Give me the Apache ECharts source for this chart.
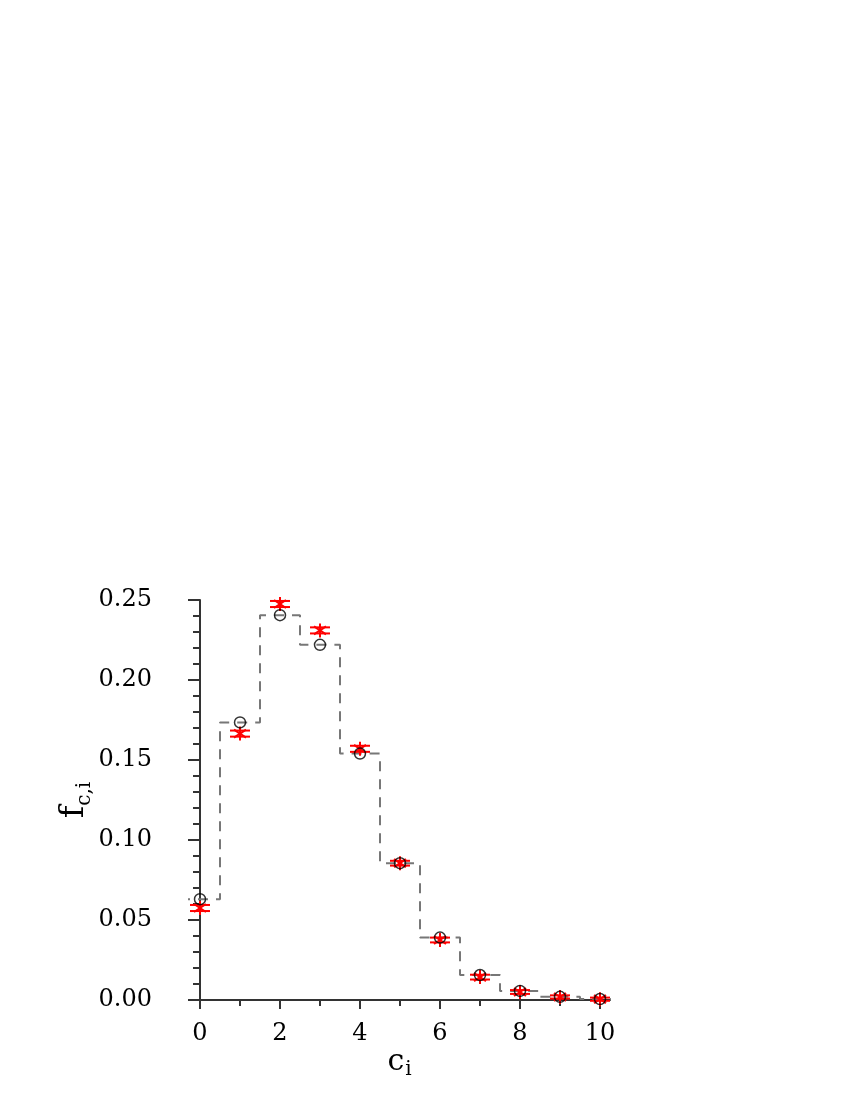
<!DOCTYPE html>
<html>
<head>
<meta charset="utf-8">
<script src="https://cdn.jsdelivr.net/npm/echarts@6/dist/echarts.min.js"></script>
<style>
html,body{margin:0;padding:0;background:#fff;}
#chart{width:850px;height:1100px;}
</style>
</head>
<body>
<div id="chart"></div>
<script>
// ---- data ----
var xs = [0, 1, 2, 3, 4, 5, 6, 7, 8, 9, 10];
var circleValues = [0.063, 0.1735, 0.2405, 0.222, 0.154, 0.0855, 0.039, 0.0156, 0.0057, 0.002, 0.0006];
var starValues = [0.0575, 0.1665, 0.2475, 0.231, 0.157, 0.0855, 0.0375, 0.0143, 0.005, 0.0019, 0.0005];
var starErrors = [0.0019, 0.0019, 0.0019, 0.0019, 0.0019, 0.0015, 0.0015, 0.0015, 0.0012, 0.001, 0.001];
var stepValues = [0.063, 0.1735, 0.2405, 0.222, 0.154, 0.0855, 0.039, 0.0157, 0.0056, 0.002, 0.0006];
var xLabelValues = [0, 2, 4, 6, 8, 10];
var xMinorValues = [1, 3, 5, 7, 9];

// step outline built from bins
var stepData = [];
for (var i = 0; i < xs.length; i++) {
  stepData.push([xs[i] - 0.5, stepValues[i]]);
  stepData.push([xs[i] + 0.5, stepValues[i]]);
}
var circleData = xs.map(function (x, i) { return [x, circleValues[i]]; });
var starData = xs.map(function (x, i) { return [x, starValues[i], starErrors[i]]; });

var FONT = 'DejaVu Serif';
var AX = '#333';

var chart = echarts.init(document.getElementById('chart'), null, {renderer: 'canvas'});
chart.setOption({
  animation: false,
  backgroundColor: '#fff',
  grid: {left: 189, right: 240, top: 600, bottom: 100, containLabel: false},
  xAxis: [{
    type: 'value',
    min: -0.275,
    max: 10.25,
    splitLine: {show: false},
    axisLine: {show: true, onZero: true, lineStyle: {color: AX, width: 2}},
    axisTick: {show: true, length: 9, customValues: xLabelValues, lineStyle: {color: AX, width: 2}},
    axisLabel: {show: true, customValues: xLabelValues, margin: 22, color: '#000', fontFamily: FONT, fontSize: 24},
    name: '{c|c}{s|i}',
    nameLocation: 'middle',
    nameGap: 42,
    nameTextStyle: {
      color: '#000', fontFamily: FONT,
      rich: {
        c: {fontSize: 30, fontFamily: FONT, color: '#000', lineHeight: 36},
        s: {fontSize: 20, fontFamily: FONT, color: '#000', verticalAlign: 'bottom', lineHeight: 36, padding: [0, 0, 0, 1]}
      }
    }
  }, {
    type: 'value',
    position: 'bottom',
    min: -0.275,
    max: 10.25,
    splitLine: {show: false},
    axisLine: {show: false, onZero: false},
    axisTick: {show: true, length: 6, customValues: xMinorValues, lineStyle: {color: AX, width: 2}},
    axisLabel: {show: false}
  }],
  yAxis: {
    type: 'value',
    min: 0,
    max: 0.25,
    interval: 0.05,
    splitLine: {show: false},
    axisLine: {show: true, onZero: true, lineStyle: {color: AX, width: 2}},
    axisTick: {show: true, length: 12, lineStyle: {color: AX, width: 2}},
    minorTick: {show: true, splitNumber: 5, length: 7, lineStyle: {color: AX, width: 2}},
    axisLabel: {
      margin: 37, color: '#000', fontFamily: FONT, fontSize: 24,
      formatter: function (v) { return v.toFixed(2); }
    },
    name: '{f|f}{s|c,i}',
    nameLocation: 'middle',
    nameGap: 93,
    nameTextStyle: {
      color: '#000', fontFamily: FONT,
      rich: {
        f: {fontSize: 34, fontFamily: FONT, color: '#000', lineHeight: 40},
        s: {fontSize: 20, fontFamily: FONT, color: '#000', verticalAlign: 'bottom', lineHeight: 40}
      }
    }
  },
  series: [{
    type: 'line',
    data: stepData,
    clip: false,
    symbol: 'none',
    z: 2,
    lineStyle: {color: '#777', width: 2, type: [10, 8]}
  }, {
    type: 'custom',
    data: starData,
    clip: false,
    z: 3,
    renderItem: function (params, api) {
      var x = api.value(0), y = api.value(1), e = api.value(2);
      var c = api.coord([x, y]);
      var t = api.coord([x, y + e]);
      var b = api.coord([x, y - e]);
      var st = {stroke: '#ff0000', lineWidth: 2};
      var hw = 10, r = 7;
      return {
        type: 'group',
        children: [
          {type: 'line', shape: {x1: c[0] - hw, y1: t[1], x2: c[0] + hw, y2: t[1]}, style: st},
          {type: 'line', shape: {x1: c[0] - hw, y1: b[1], x2: c[0] + hw, y2: b[1]}, style: st},
          {type: 'line', shape: {x1: c[0], y1: c[1] - r, x2: c[0], y2: c[1] + r}, style: st},
          {type: 'line', shape: {x1: c[0] - 6, y1: c[1] - 4, x2: c[0] + 6, y2: c[1] + 4}, style: st},
          {type: 'line', shape: {x1: c[0] - 6, y1: c[1] + 4, x2: c[0] + 6, y2: c[1] - 4}, style: st}
        ]
      };
    }
  }, {
    type: 'scatter',
    data: circleData,
    clip: false,
    z: 4,
    symbol: 'circle',
    symbolSize: 11,
    itemStyle: {color: 'rgba(255,255,255,0)', borderColor: '#000', borderWidth: 1.5}
  }]
});
</script>
</body>
</html>
